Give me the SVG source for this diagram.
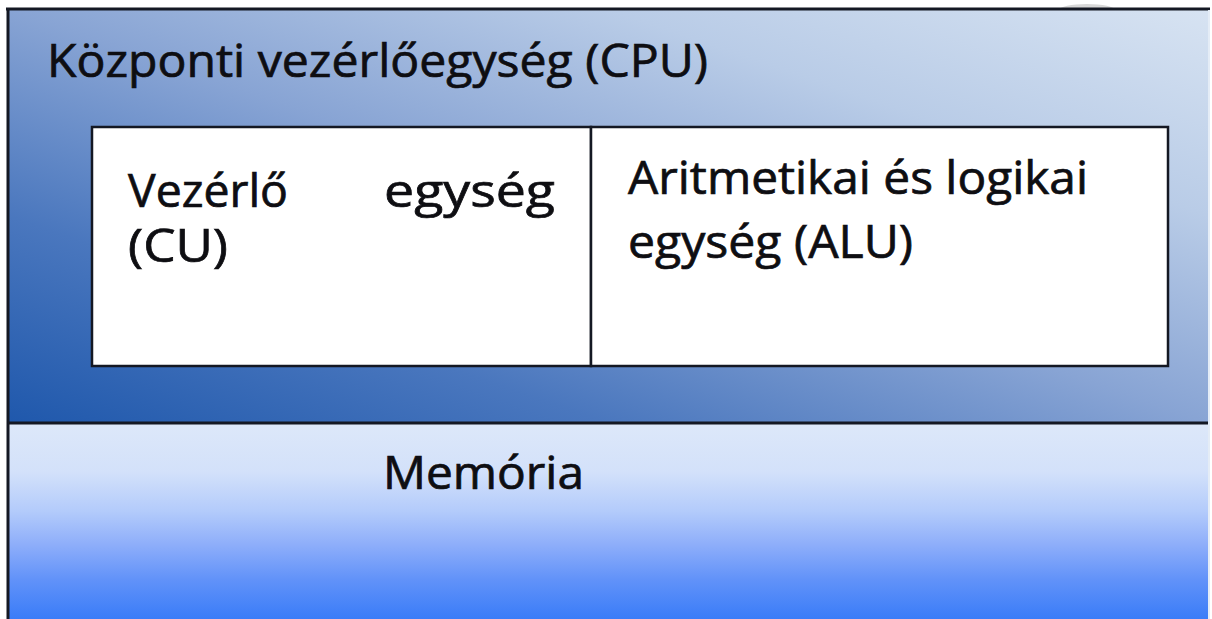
<svg xmlns="http://www.w3.org/2000/svg" width="1212" height="619" viewBox="0 0 1212 619">
  <defs>
    <!-- CPU panel: dark blue bottom-left fading to pale blue top-right -->
    <linearGradient id="cpuFill" x1="0" y1="1" x2="1" y2="0">
      <stop offset="0" stop-color="#1f58ac"/>
      <stop offset="0.25" stop-color="#4a77be"/>
      <stop offset="0.5" stop-color="#88a4d4"/>
      <stop offset="0.75" stop-color="#b9cce7"/>
      <stop offset="1" stop-color="#d7e3f2"/>
    </linearGradient>
    <!-- Memory panel: pale at the top, saturated blue at the bottom -->
    <linearGradient id="memFill" x1="0" y1="0" x2="0" y2="1">
      <stop offset="0" stop-color="#dde8f9"/>
      <stop offset="0.25" stop-color="#d3e1fa"/>
      <stop offset="0.45" stop-color="#b3cbfb"/>
      <stop offset="0.62" stop-color="#8eaefa"/>
      <stop offset="0.8" stop-color="#6192f9"/>
      <stop offset="1" stop-color="#3a7cf8"/>
    </linearGradient>
  </defs>
  <style>
    .label { font-family: "Open Sans", "Noto Sans", "Liberation Sans", sans-serif; font-size: 45px; fill: #0e0e12; stroke: #0e0e12; stroke-width: 0.7px; }
    .frame { stroke: #141823; stroke-width: 3; }
    .cell { fill: #ffffff; stroke: #141823; stroke-width: 2.5; }
  </style>

  <rect width="1212" height="619" fill="#ffffff"/>

  <!-- faint grey dome sitting on the top border -->
  <ellipse cx="1087" cy="10" rx="28" ry="6" fill="#d8d8d8"/>

  <!-- CPU -->
  <g id="cpu">
    <rect x="8" y="9" width="1201" height="414" fill="url(#cpuFill)"/>
    <text class="label" x="47" y="77" textLength="661" lengthAdjust="spacingAndGlyphs">Központi vezérlőegység (CPU)</text>
  </g>

  <!-- Memory -->
  <g id="memory">
    <rect x="8" y="423" width="1201" height="196" fill="url(#memFill)"/>
    <text class="label" x="383" y="489" textLength="201" lengthAdjust="spacingAndGlyphs">Memória</text>
  </g>

  <!-- Control unit -->
  <g id="cu">
    <rect class="cell" x="92" y="127" width="499" height="239"/>
    <text class="label" x="128" y="207" textLength="160" lengthAdjust="spacingAndGlyphs">Vezérlő</text>
    <text class="label" x="384" y="207" textLength="171" lengthAdjust="spacingAndGlyphs">egység</text>
    <text class="label" x="128" y="262" textLength="100" lengthAdjust="spacingAndGlyphs">(CU)</text>
  </g>

  <!-- Arithmetic logic unit -->
  <g id="alu">
    <rect class="cell" x="591" y="127" width="577" height="239"/>
    <text class="label" x="628" y="194" textLength="460" lengthAdjust="spacingAndGlyphs">Aritmetikai és logikai</text>
    <text class="label" x="628" y="258" textLength="285" lengthAdjust="spacingAndGlyphs">egység (ALU)</text>
  </g>

  <!-- outer frame lines -->
  <g id="connectors">
    <line class="frame" x1="6" y1="9" x2="1210" y2="9"/>
    <line class="frame" x1="8" y1="8" x2="8" y2="619"/>
    <line class="frame" x1="8" y1="423" x2="1209" y2="423"/>
    <line x1="1209" y1="10" x2="1209" y2="619" stroke="#e4ecf6" stroke-width="2"/>
  </g>
</svg>
